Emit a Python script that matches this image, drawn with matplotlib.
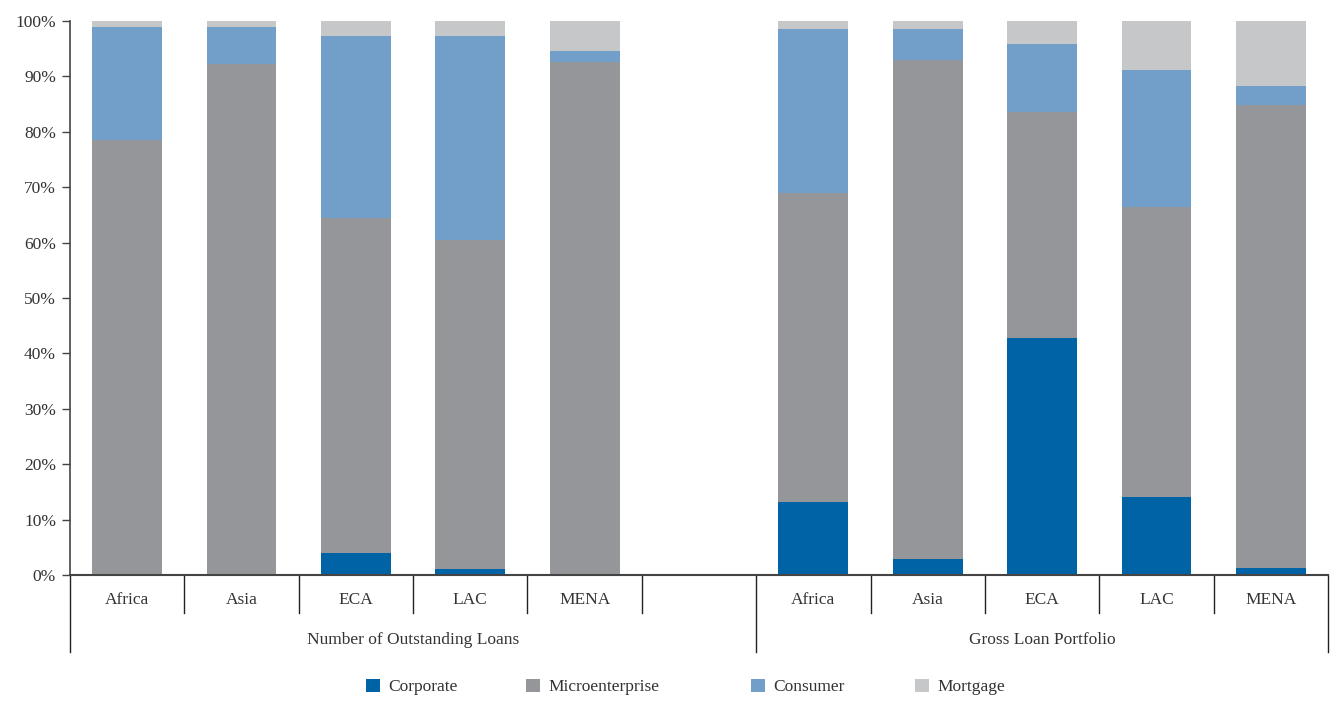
import numpy as np
import matplotlib.pyplot as plt
from matplotlib.patches import Patch

plt.rcParams['font.family'] = ['Liberation Serif', 'DejaVu Serif']

# data (percent of total)
regions = ["Africa", "Asia", "ECA", "LAC", "MENA"]
groups = ["Number of Outstanding Loans", "Gross Loan Portfolio"]
series = ["Corporate", "Microenterprise", "Consumer", "Mortgage"]

loans_corporate = [0.0, 0.0, 4.0, 1.1, 0.0]
loans_micro = [78.5, 92.2, 60.4, 59.4, 92.6]
loans_consumer = [20.4, 6.7, 32.9, 36.8, 2.0]
loans_mortgage = [1.1, 1.1, 2.7, 2.7, 5.4]

gross_corporate = [13.2, 2.9, 42.8, 14.1, 1.3]
gross_micro = [55.8, 90.1, 40.8, 52.3, 83.5]
gross_consumer = [29.6, 5.6, 12.2, 24.8, 3.5]
gross_mortgage = [1.4, 1.4, 4.2, 8.8, 11.7]

colors = ["#0063a6", "#95969a", "#729fca", "#c6c7c9"]

fig = plt.figure(figsize=(13.31, 7.08), dpi=100)
ax = fig.add_axes([70/1331, 1-575/708, (1328-70)/1331, (575-21)/708])

x_left = np.arange(5)
x_right = np.arange(5) + 6
w = 0.61

for xs, vals in [(x_left, [loans_corporate, loans_micro, loans_consumer, loans_mortgage]),
                 (x_right, [gross_corporate, gross_micro, gross_consumer, gross_mortgage])]:
    bottom = np.zeros(5)
    for v, c in zip(vals, colors):
        ax.bar(xs, v, w, bottom=bottom, color=c, linewidth=0)
        bottom += np.array(v)

ax.set_xlim(-0.5, 10.5)
ax.set_ylim(0, 100)
ax.set_yticks(np.arange(0, 101, 10))
ax.set_yticklabels(["{}%".format(t) for t in range(0, 101, 10)], fontsize=12.5, color="#333333")
ax.tick_params(axis="y", length=6, width=1, color="#444444", pad=4)
ax.set_xticks([])
for s in ["top", "right"]:
    ax.spines[s].set_visible(False)
ax.spines["left"].set_color("#444444")
ax.spines["bottom"].set_color("#444444")
ax.spines["left"].set_linewidth(1.2)
ax.spines["bottom"].set_linewidth(1.5)

trans = ax.get_xaxis_transform()
# separators below the axis
for xb in np.arange(-0.5, 11, 1.0):
    low = -0.139 if xb in (-0.5, 5.5, 10.5) else -0.069
    ax.plot([xb, xb], [0, low], color="#222222", lw=1, transform=trans, clip_on=False)

for xs in [x_left, x_right]:
    for xi, name in zip(xs, regions):
        ax.text(xi, -0.045, name, transform=trans, ha="center", va="center",
                fontsize=12.5, color="#333333")

ax.text(2.5, -0.117, groups[0], transform=trans, ha="center", va="center",
        fontsize=12.5, color="#333333")
ax.text(8.0, -0.117, groups[1], transform=trans, ha="center", va="center",
        fontsize=12.5, color="#333333")

# legend entries placed one by one, like the reference
legend_x = [366, 526, 751, 915]
for name, c, lx in zip(series, colors, legend_x):
    fig.legend([Patch(facecolor=c, edgecolor="none")], [name], loc="center left",
               bbox_to_anchor=(lx/1331, 1-687/708), frameon=False, fontsize=12.5,
               handlelength=0.8, handleheight=0.8, handletextpad=0.5,
               borderpad=0, borderaxespad=0, labelcolor="#333333")

plt.savefig("out.png", dpi=100)
